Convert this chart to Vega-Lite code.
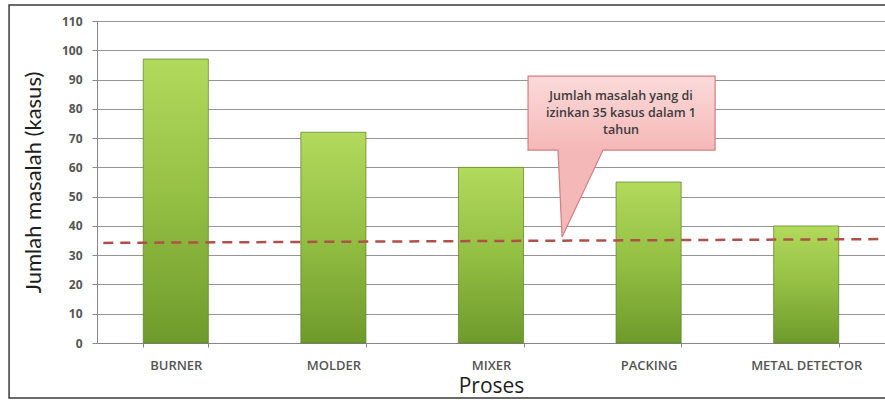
{
  "$schema": "https://vega.github.io/schema/vega-lite/v6.json",
  "autosize": {"type": "none"},
  "padding": {"left": 97, "top": 21, "right": 0, "bottom": 58},
  "width": 788,
  "height": 322,
  "background": "white",
  "config": {
    "view": {"stroke": null},
    "font": "Lato"
  },
  "datasets": {
    "proses": [
      {"proses": "BURNER", "kasus": 97},
      {"proses": "MOLDER", "kasus": 72},
      {"proses": "MIXER", "kasus": 60},
      {"proses": "PACKING", "kasus": 55},
      {"proses": "METAL DETECTOR", "kasus": 40}
    ],
    "frame": [{"u": -0.558, "u2": 5.6, "v": -18.8, "v2": 115.5}],
    "batas": [{"u": 0.04, "v": 34.2, "u2": 5.0, "v2": 35.5}],
    "kotak": [{"u": 2.735, "u2": 3.922, "v": 65.9, "v2": 91.2}],
    "penunjuk": [
      {"u": 2.925, "top": 66.3, "bottom": 66.3},
      {"u": 2.951, "top": 66.3, "bottom": 36.2},
      {"u": 3.211, "top": 66.3, "bottom": 66.3}
    ],
    "sisi": [
      {"u": 2.925, "v": 65.9, "k": 1},
      {"u": 2.951, "v": 36.2, "k": 2},
      {"u": 3.211, "v": 65.9, "k": 3}
    ],
    "catatan": [
      {"u": 3.325, "v": 84.4, "teks": "Jumlah masalah yang di"},
      {"u": 3.325, "v": 78.6, "teks": "izinkan 35 kasus dalam 1"},
      {"u": 3.325, "v": 72.8, "teks": "tahun"}
    ]
  },
  "resolve": {"scale": {"x": "independent", "y": "independent"}},
  "layer": [
    {
      "data": {"name": "proses"},
      "mark": {
        "type": "bar",
        "stroke": "#5d7d27",
        "strokeWidth": 1,
        "strokeOpacity": 0.7,
        "color": {
          "gradient": "linear",
          "x1": 0, "y1": 0, "x2": 0, "y2": 1,
          "stops": [
            {"offset": 0, "color": "#b2da5c"},
            {"offset": 0.5, "color": "#93bf43"},
            {"offset": 1, "color": "#6e9a2c"}
          ]
        }
      },
      "encoding": {
        "x": {
          "field": "proses",
          "type": "nominal",
          "sort": null,
          "scale": {"paddingInner": 0.587, "paddingOuter": 0.2935},
          "axis": {
            "title": "Proses",
            "titleFont": "Open Sans",
            "titleFontSize": 21,
            "titleFontWeight": "normal",
            "titleColor": "#1e1e1e",
            "titlePadding": 3,
            "labelAngle": 0,
            "labelFont": "Open Sans",
            "labelFontSize": 13,
            "labelFontWeight": 600,
            "labelColor": "#555555",
            "labelPadding": 12,
            "labelOverlap": false,
            "tickBand": "extent",
            "tickSize": 4,
            "tickColor": "#868686",
            "domainColor": "#868686",
            "grid": false
          }
        },
        "y": {
          "field": "kasus",
          "type": "quantitative",
          "scale": {"domain": [0, 110], "nice": false},
          "axis": {
            "title": "Jumlah masalah (kasus)",
            "values": [0, 10, 20, 30, 40, 50, 60, 70, 80, 90, 100, 110],
            "labelOverlap": false,
            "titleFont": "Lato",
            "titleFontSize": 22,
            "titleFontWeight": "normal",
            "titleColor": "#1e1e1e",
            "titlePadding": 16,
            "labelFont": "Open Sans",
            "labelFontSize": 12,
            "labelFontWeight": "bold",
            "labelColor": "#555555",
            "labelPadding": 10,
            "tickSize": 5,
            "tickColor": "#868686",
            "domainColor": "#868686",
            "gridColor": "#8a8a8a",
            "gridOpacity": 0.9
          }
        }
      }
    },
    {
      "data": {"name": "batas"},
      "mark": {"type": "rule", "stroke": "#b0504a", "strokeWidth": 2.5, "strokeDash": [10, 7]},
      "encoding": {
        "x": {"field": "u", "type": "quantitative", "scale": {"domain": [0, 5], "nice": false, "zero": false}, "axis": null},
        "x2": {"field": "u2"},
        "y": {"field": "v", "type": "quantitative", "scale": {"domain": [0, 110], "nice": false}, "axis": null},
        "y2": {"field": "v2"}
      }
    },
    {
      "data": {"name": "kotak"},
      "mark": {
        "type": "rect",
        "stroke": "#cf7f82",
        "strokeWidth": 1.2,
        "color": {
          "gradient": "linear",
          "x1": 0, "y1": 0, "x2": 0, "y2": 1,
          "stops": [
            {"offset": 0, "color": "#fcdada"},
            {"offset": 1, "color": "#f5b8b8"}
          ]
        }
      },
      "encoding": {
        "x": {"field": "u", "type": "quantitative", "scale": {"domain": [0, 5], "nice": false, "zero": false}, "axis": null},
        "x2": {"field": "u2"},
        "y": {"field": "v", "type": "quantitative", "scale": {"domain": [0, 110], "nice": false}, "axis": null},
        "y2": {"field": "v2"}
      }
    },
    {
      "data": {"name": "penunjuk"},
      "mark": {"type": "area", "color": "#f5b8b8", "opacity": 1},
      "encoding": {
        "x": {"field": "u", "type": "quantitative", "scale": {"domain": [0, 5], "nice": false, "zero": false}, "axis": null},
        "y": {"field": "top", "type": "quantitative", "scale": {"domain": [0, 110], "nice": false}, "axis": null},
        "y2": {"field": "bottom"}
      }
    },
    {
      "data": {"name": "sisi"},
      "mark": {"type": "line", "color": "#cf7f82", "strokeWidth": 1.2},
      "encoding": {
        "x": {"field": "u", "type": "quantitative", "scale": {"domain": [0, 5], "nice": false, "zero": false}, "axis": null},
        "y": {"field": "v", "type": "quantitative", "scale": {"domain": [0, 110], "nice": false}, "axis": null},
        "order": {"field": "k"}
      }
    },
    {
      "data": {"name": "catatan"},
      "mark": {"type": "text", "font": "Open Sans", "fontSize": 12.5, "fontWeight": 600, "color": "#3c3c3c", "align": "center", "baseline": "middle"},
      "encoding": {
        "x": {"field": "u", "type": "quantitative", "scale": {"domain": [0, 5], "nice": false, "zero": false}, "axis": null},
        "y": {"field": "v", "type": "quantitative", "scale": {"domain": [0, 110], "nice": false}, "axis": null},
        "text": {"field": "teks"}
      }
    },
    {
      "data": {"name": "frame"},
      "mark": {"type": "rect", "fill": null, "stroke": "#3a3a3a", "strokeWidth": 1.5, "clip": false},
      "encoding": {
        "x": {"field": "u", "type": "quantitative", "scale": {"domain": [0, 5], "nice": false, "zero": false}, "axis": null},
        "x2": {"field": "u2"},
        "y": {"field": "v", "type": "quantitative", "scale": {"domain": [0, 110], "nice": false}, "axis": null},
        "y2": {"field": "v2"}
      }
    }
  ]
}
